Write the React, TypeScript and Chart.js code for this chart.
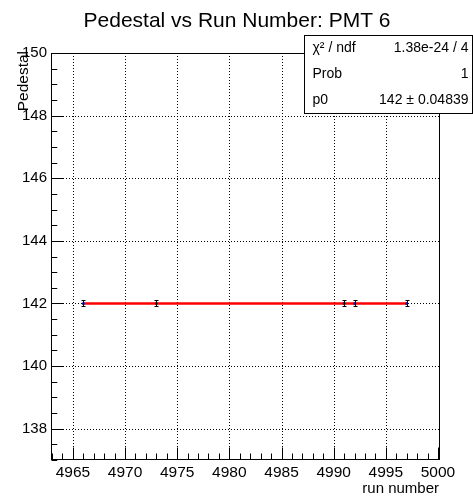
import React, { useEffect, useRef } from 'react';
import { Chart, registerables } from 'chart.js';

Chart.register(...registerables);

// ---- data ----
const runNumbers = [4966, 4973, 4991, 4992, 4997];
const pedestals = [142, 142, 142, 142, 142];
const pedestalErrors = [0.108, 0.108, 0.108, 0.108, 0.108];
const fitP0 = 142;
const xTicks = [4965, 4970, 4975, 4980, 4985, 4990, 4995, 5000];
const yTicks = [138, 140, 142, 144, 146, 148, 150];
const xRange = [4962.9, 5000.1];
const yRange = [137, 150];
const statsLabels = ['χ² / ndf', 'Prob', 'p0'];
const statsValues = ['1.38e-24 / 4', '1', '142 ± 0.04839'];
const titleText = 'Pedestal vs Run Number: PMT 6';
const xTitle = 'run number';
const yTitle = 'Pedestal';

const FONT = '"Liberation Sans", Arial, Helvetica, sans-serif';
const W = 473;
const H = 496;

const rootPlugin = {
  id: 'rootStyle',
  beforeDatasetsDraw(chart: any) {
    const { ctx, chartArea: a, scales } = chart;
    const xs = scales.x;
    const ys = scales.y;
    ctx.save();
    ctx.strokeStyle = '#000';
    ctx.lineWidth = 1;
    ctx.setLineDash([1, 2]);
    xTicks.forEach((v) => {
      const px = Math.round(xs.getPixelForValue(v)) + 0.5;
      if (px <= a.left + 1 || px >= a.right - 1) return;
      ctx.beginPath();
      ctx.moveTo(px, a.top);
      ctx.lineTo(px, a.bottom);
      ctx.stroke();
    });
    yTicks.forEach((v) => {
      const py = Math.round(ys.getPixelForValue(v)) + 0.5;
      if (py <= a.top + 1 || py >= a.bottom - 1) return;
      ctx.beginPath();
      ctx.moveTo(a.left, py);
      ctx.lineTo(a.right, py);
      ctx.stroke();
    });
    ctx.restore();
  },
  afterDatasetsDraw(chart: any) {
    const { ctx, chartArea: a, scales } = chart;
    const xs = scales.x;
    const ys = scales.y;
    ctx.save();
    ctx.setLineDash([]);
    ctx.strokeStyle = '#000';
    ctx.lineWidth = 1;

    // error bars
    runNumbers.forEach((r, i) => {
      const px = Math.round(xs.getPixelForValue(r)) + 0.5;
      const y1 = ys.getPixelForValue(pedestals[i] + pedestalErrors[i]);
      const y2 = ys.getPixelForValue(pedestals[i] - pedestalErrors[i]);
      ctx.beginPath();
      ctx.moveTo(px, y1);
      ctx.lineTo(px, y2);
      ctx.moveTo(px - 2, Math.round(y1) + 0.5);
      ctx.lineTo(px + 2, Math.round(y1) + 0.5);
      ctx.moveTo(px - 2, Math.round(y2) - 0.5);
      ctx.lineTo(px + 2, Math.round(y2) - 0.5);
      ctx.stroke();
    });

    // frame
    const L = Math.round(a.left) + 0.5;
    const R = Math.round(a.right) + 0.5;
    const T = Math.round(a.top) + 0.5;
    const B = Math.round(a.bottom) - 0.5;
    ctx.strokeRect(L, T, R - L, B - T);

    // ticks
    const xMajor = 12;
    const yMajor = 11.5;
    ctx.beginPath();
    xTicks.forEach((v) => {
      const px = Math.round(xs.getPixelForValue(v)) + 0.5;
      ctx.moveTo(px, B);
      ctx.lineTo(px, B - xMajor);
    });
    const xStep = (xTicks[1] - xTicks[0]) / 5;
    for (let v = Math.ceil(xRange[0] / xStep) * xStep; v <= xRange[1]; v += xStep) {
      const px = Math.round(xs.getPixelForValue(v)) + 0.5;
      ctx.moveTo(px, B);
      ctx.lineTo(px, B - xMajor / 2);
    }
    yTicks.forEach((v) => {
      const py = Math.round(ys.getPixelForValue(v)) + 0.5;
      ctx.moveTo(L, py);
      ctx.lineTo(L + yMajor, py);
    });
    const yStep = (yTicks[1] - yTicks[0]) / 4;
    for (let v = Math.ceil(yRange[0] / yStep) * yStep; v <= yRange[1]; v += yStep) {
      const py = Math.round(ys.getPixelForValue(v)) + 0.5;
      ctx.moveTo(L, py);
      ctx.lineTo(L + yMajor / 2, py);
    }
    ctx.stroke();

    // title
    ctx.fillStyle = '#000';
    ctx.font = `21px ${FONT}`;
    ctx.textAlign = 'center';
    ctx.textBaseline = 'alphabetic';
    ctx.fillText(titleText, 237, 27);

    // x title
    ctx.font = `15px ${FONT}`;
    ctx.textAlign = 'right';
    ctx.fillText(xTitle, a.right, 493);

    // y title
    ctx.save();
    ctx.translate(28, a.top - 2);
    ctx.rotate(-Math.PI / 2);
    ctx.font = `15.5px ${FONT}`;
    ctx.textAlign = 'right';
    ctx.textBaseline = 'alphabetic';
    ctx.fillText(yTitle, 0, 0);
    ctx.restore();

    // stats box
    const bx = 304.5, by = 35.5, bw = 168, bh = 78;
    ctx.fillStyle = '#fff';
    ctx.fillRect(bx, by, bw, bh);
    ctx.strokeRect(bx, by, bw, bh);
    ctx.fillStyle = '#000';
    ctx.font = `14px ${FONT}`;
    ctx.textBaseline = 'middle';
    const rowH = bh / statsLabels.length;
    statsLabels.forEach((lab, i) => {
      const cy = by + rowH * (i + 0.5);
      ctx.textAlign = 'left';
      ctx.fillText(lab, bx + 8, cy);
      ctx.textAlign = 'right';
      ctx.fillText(statsValues[i], bx + bw - 4, cy);
    });

    ctx.restore();
  },
};

export default function App() {
  const ref = useRef<HTMLCanvasElement>(null);
  useEffect(() => {
    if (!ref.current) return;
    const chart = new Chart(ref.current, {
      type: 'scatter',
      data: {
        datasets: [
          {
            type: 'scatter',
            data: runNumbers.map((r, i) => ({ x: r, y: pedestals[i] })),
            pointRadius: 1.5,
            pointBackgroundColor: '#1a1aa8',
            pointBorderWidth: 0,
            order: 1,
          },
          {
            type: 'line',
            data: [
              { x: runNumbers[0], y: fitP0 },
              { x: runNumbers[runNumbers.length - 1], y: fitP0 },
            ],
            borderColor: '#ff0000',
            borderWidth: 2.5,
            pointRadius: 0,
            fill: false,
            order: 2,
          } as any,
        ],
      },
      options: {
        animation: false,
        responsive: false,
        devicePixelRatio: 1,
        layout: { padding: { left: 0, top: 53, right: W - 439, bottom: 0 } },
        plugins: {
          legend: { display: false },
          tooltip: { enabled: false },
          title: { display: false },
        },
        scales: {
          x: {
            type: 'linear',
            min: xRange[0],
            max: xRange[1],
            grid: { display: false, drawTicks: false },
            border: { display: false },
            ticks: {
              font: { family: FONT, size: 15.5 },
              color: '#000',
              padding: 3,
              maxRotation: 0,
              autoSkip: false,
              callback: (v: any) => String(v),
            },
            afterBuildTicks: (s: any) => {
              s.ticks = xTicks.map((v) => ({ value: v }));
            },
            afterFit: (s: any) => {
              s.height = 36;
            },
          },
          y: {
            type: 'linear',
            min: yRange[0],
            max: yRange[1],
            grid: { display: false, drawTicks: false },
            border: { display: false },
            ticks: {
              font: { family: FONT, size: 15 },
              color: '#000',
              padding: 4,
              autoSkip: false,
              callback: (v: any) => String(v),
            },
            afterBuildTicks: (s: any) => {
              s.ticks = yTicks.map((v) => ({ value: v }));
            },
            afterFit: (s: any) => {
              s.width = 51;
            },
          },
        },
      },
      plugins: [rootPlugin],
    });
    return () => chart.destroy();
  }, []);
  return (
    <div style={{ position: 'fixed', left: 0, top: 0, width: W, height: H, background: '#fff' }}>
      <canvas ref={ref} width={W} height={H} style={{ display: 'block', width: W, height: H }} />
    </div>
  );
}
